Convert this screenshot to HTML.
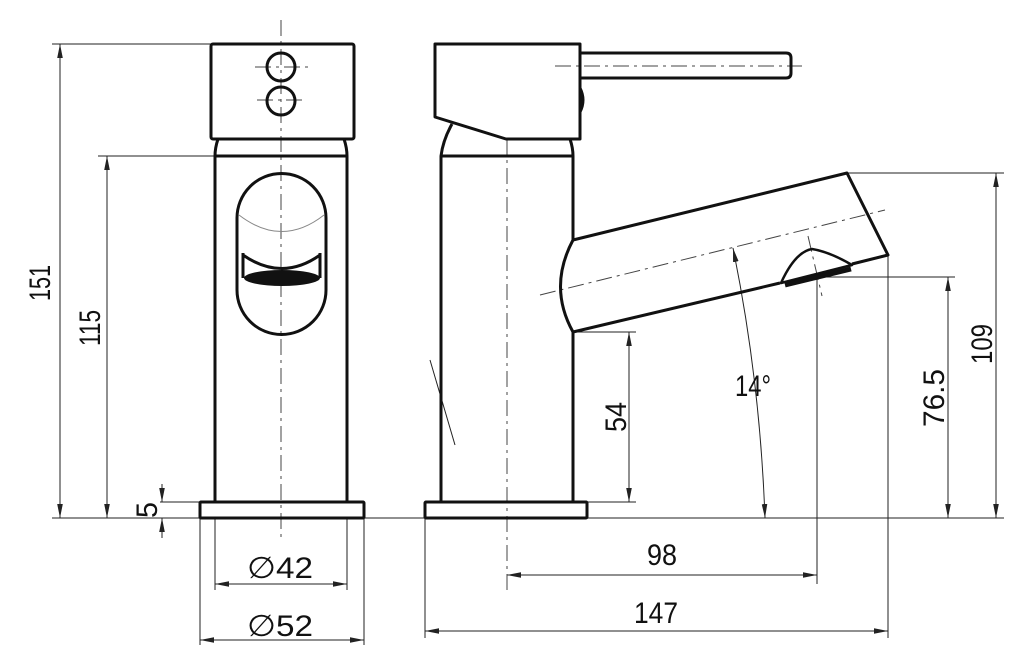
<!DOCTYPE html>
<html><head><style>html,body{margin:0;padding:0;background:#fff}svg{display:block}</style></head>
<body>
<svg width="1024" height="663" viewBox="0 0 1024 663" xmlns="http://www.w3.org/2000/svg" font-family="Liberation Sans, sans-serif">
<defs>
<marker id="a" viewBox="0 0 10 4" refX="10" refY="2" markerWidth="14" markerHeight="6" orient="auto-start-reverse" markerUnits="userSpaceOnUse"><path d="M0,0 L10,2 L0,4 z" fill="#222"/></marker>
</defs>
<g fill="none" stroke="#222" stroke-width="1">
<line x1="52" y1="44" x2="211" y2="44"/>
<line x1="98" y1="156" x2="215" y2="156"/>
<line x1="52" y1="518" x2="1004" y2="518"/>
<line x1="160" y1="502" x2="200" y2="502"/>
<line x1="215" y1="518" x2="215" y2="590"/>
<line x1="347" y1="518" x2="347" y2="590"/>
<line x1="200" y1="518" x2="200" y2="645"/>
<line x1="364" y1="518" x2="364" y2="645"/>
<line x1="425" y1="518" x2="425" y2="638"/>
<line x1="888" y1="255" x2="888" y2="638"/>
<line x1="817" y1="278" x2="817" y2="584"/>
<line x1="573" y1="332" x2="636" y2="332"/>
<line x1="587" y1="502" x2="636" y2="502"/>
<line x1="820" y1="277" x2="955" y2="277"/>
<line x1="847" y1="173" x2="1004" y2="173"/>
<line x1="60" y1="44" x2="60" y2="518" marker-start="url(#a)" marker-end="url(#a)"/>
<line x1="107" y1="156" x2="107" y2="518" marker-start="url(#a)" marker-end="url(#a)"/>
<line x1="162" y1="484" x2="162" y2="502" marker-end="url(#a)"/>
<line x1="162" y1="538" x2="162" y2="518" marker-end="url(#a)"/>
<line x1="215" y1="584" x2="347" y2="584" marker-start="url(#a)" marker-end="url(#a)"/>
<line x1="200" y1="640" x2="364" y2="640" marker-start="url(#a)" marker-end="url(#a)"/>
<line x1="507" y1="575" x2="817" y2="575" marker-start="url(#a)" marker-end="url(#a)"/>
<line x1="425" y1="631" x2="888" y2="631" marker-start="url(#a)" marker-end="url(#a)"/>
<line x1="629" y1="332" x2="629" y2="502" marker-start="url(#a)" marker-end="url(#a)"/>
<line x1="948" y1="277" x2="948" y2="518" marker-start="url(#a)" marker-end="url(#a)"/>
<line x1="996" y1="173" x2="996" y2="518" marker-start="url(#a)" marker-end="url(#a)"/>
<path d="M733,248 Q760,380 765,518" marker-start="url(#a)" marker-end="url(#a)"/>
<g stroke-dasharray="16,5,3,5" stroke="#444">
<line x1="281" y1="20" x2="281" y2="540"/>
<line x1="255" y1="67" x2="308" y2="67"/>
<line x1="257" y1="100" x2="305" y2="100"/>
<line x1="507" y1="139" x2="507" y2="590"/>
<line x1="555" y1="66" x2="802" y2="66"/>
<line x1="540" y1="295" x2="885" y2="210"/>
<line x1="808" y1="236" x2="822" y2="296"/>
</g>
<line x1="430" y1="360" x2="455" y2="445"/>
</g>
<g fill="none" stroke="#111" stroke-width="3" stroke-linejoin="round">
<rect x="211" y="44" width="143" height="95" rx="2"/>
<path d="M218,139 Q215,148 215,156 L215,502 M347,502 L347,156 Q347,148 344,139"/>
<line x1="215" y1="156" x2="347" y2="156"/>
<circle cx="281" cy="67" r="14"/>
<circle cx="281" cy="101" r="14"/>
<path d="M237,218 A44,44 0 0 1 326,218 L326,290 A44,44 0 0 1 237,290 Z"/>
<rect x="200" y="502" width="164" height="16" rx="1"/>
<path d="M435,44 L580,44 L580,139 L506,139 L435,117 Z"/>
<path d="M452,124 Q443,140 441,156 L441,502 M573,502 L573,332 M573,240 L573,156 Q573,148 570,139"/>
<line x1="441" y1="156" x2="573" y2="156"/>
<path d="M580,53 L786,53 Q791,53 791,58 L791,73 Q791,78 786,78 L580,78"/>
<rect x="425" y="502" width="162" height="16" rx="1"/>
<path d="M573,240 L847,173 L888,255 L852,264 M780,283 L573,332 Q548,287 573,240"/>
<path d="M781,283 Q795,252 812,249 Q830,252 852,265 Z" stroke-width="2.5"/>
</g>
<path d="M785,285 L851,269" stroke="#111" stroke-width="5"/>
<path d="M580,88 Q586,100 580,112" stroke="#111" stroke-width="3" fill="none"/>
<ellipse cx="282" cy="278" rx="38" ry="8" fill="#111"/>
<path d="M243,255 Q282,282 320,255" fill="none" stroke="#111" stroke-width="3"/>
<path d="M243,253 L243,278 M320,253 L320,278" stroke="#111" stroke-width="3"/>
<path d="M239,215 Q282,248 324,215" fill="none" stroke="#888" stroke-width="1"/>
<g font-size="30" fill="#111">
<text transform="translate(50,283) rotate(-90)" text-anchor="middle" textLength="36" lengthAdjust="spacingAndGlyphs">151</text>
<text transform="translate(100,328) rotate(-90)" text-anchor="middle" textLength="36" lengthAdjust="spacingAndGlyphs">115</text>
<text transform="translate(157,510) rotate(-90)" text-anchor="middle" textLength="16" lengthAdjust="spacingAndGlyphs">5</text>
<text x="280" y="578" text-anchor="middle" textLength="66" lengthAdjust="spacingAndGlyphs">∅42</text>
<text x="280" y="636" text-anchor="middle" textLength="66" lengthAdjust="spacingAndGlyphs">∅52</text>
<text x="662" y="565" text-anchor="middle" textLength="30" lengthAdjust="spacingAndGlyphs">98</text>
<text x="656" y="623" text-anchor="middle" textLength="44" lengthAdjust="spacingAndGlyphs">147</text>
<text transform="translate(626,417) rotate(-90)" text-anchor="middle" textLength="30" lengthAdjust="spacingAndGlyphs">54</text>
<text transform="translate(944,398) rotate(-90)" text-anchor="middle" textLength="58" lengthAdjust="spacingAndGlyphs">76.5</text>
<text transform="translate(992,344) rotate(-90)" text-anchor="middle" textLength="40" lengthAdjust="spacingAndGlyphs">109</text>
<text x="753" y="396" text-anchor="middle" textLength="36" lengthAdjust="spacingAndGlyphs">14°</text>
</g>
</svg>
</body></html>
